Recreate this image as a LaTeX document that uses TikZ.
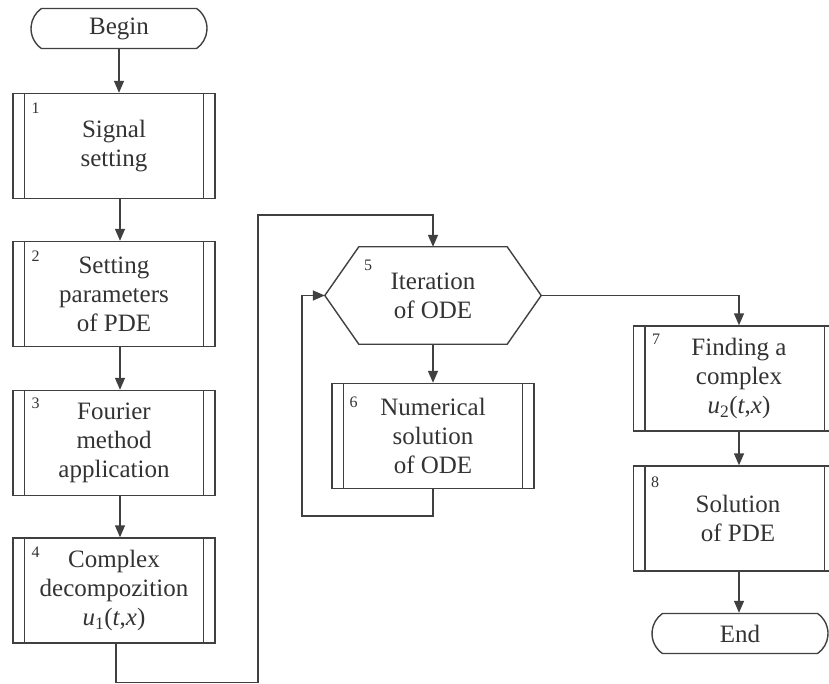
\documentclass[tikz,border=0pt]{standalone}
\usepackage{fontspec}
\setmainfont{Liberation Serif}
\newfontfamily\timesfont{Liberation Serif}
\usetikzlibrary{arrows.meta,shapes.misc}
\definecolor{lncol}{gray}{0.25}
\definecolor{txcol}{gray}{0.2}
\begin{document}
\begin{tikzpicture}[x=1pt,y=-1pt,
  every node/.style={text=txcol},
  bigtext/.style={font=\timesfont\fontsize{25}{29}\selectfont, align=center},
  proc/.style={draw=lncol, line width=1.4pt, minimum width=202pt, minimum height=105pt, inner sep=0pt, bigtext},
  term/.style={draw=lncol, line width=1.4pt, rounded rectangle, rounded rectangle arc length=110, minimum width=176pt, minimum height=40pt, inner sep=0pt, bigtext},
  num/.style={anchor=north west, inner sep=0pt, font=\timesfont\fontsize{16}{16}\selectfont},
  wire/.style={draw=lncol, line width=1.4pt},
  arr/.style={wire, -{Triangle[length=12pt,width=10pt]}}
]
\useasboundingbox (0,0) rectangle (829,684);
% terminals
\node[term] (begin) at (119,28.5) {Begin};
\node[term] (end) at (740,633.5) {End};
% left column
\node[proc] (b1) at (114,146) {Signal\\setting};
\node[proc] (b2) at (114,294) {Setting\\parameters\\of PDE};
\node[proc] (b3) at (114,443) {Fourier\\method\\application};
\node[proc] (b4) at (114,590.5) {Complex\\decompozition\\\textit{u}\textsubscript{1}(\textit{t},\textit{x})};
% hexagon
\node[minimum width=216pt, minimum height=97pt, inner sep=0pt, bigtext] (h5) at (433,295.5) {Iteration\\of ODE};
\draw[wire] ([xshift=34pt]h5.north west) -- ([xshift=-34pt]h5.north east) -- (h5.east)
  -- ([xshift=-34pt]h5.south east) -- ([xshift=34pt]h5.south west) -- (h5.west) -- cycle;
\node[proc] (b6) at (433,436) {Numerical\\solution\\of ODE};
% right column
\node[proc] (b7) at (734.5,378.5) {};
\node[bigtext, inner sep=0pt] (t7) at (739,378.5) {Finding a\\complex\\\textit{u}\textsubscript{2}(\textit{t},\textit{x})};
\node[proc] (b8) at (734.5,518.5) {};
\node[bigtext, inner sep=0pt] (t8) at (738,518.5) {Solution\\of PDE};
% inner lines of predefined-process boxes
\foreach \b in {b1,b2,b3,b4,b6,b7,b8}{
  \draw[wire] ([xshift=12pt]\b.north west) -- ([xshift=12pt]\b.south west)
              ([xshift=-12pt]\b.north east) -- ([xshift=-12pt]\b.south east);
}
% numbers
\node[num] (n1) at ([xshift=19pt,yshift=-10pt]b1.north west) {1};
\node[num] (n2) at ([xshift=19pt,yshift=-10pt]b2.north west) {2};
\node[num] (n3) at ([xshift=19pt,yshift=-8pt]b3.north west) {3};
\node[num] (n4) at ([xshift=19pt,yshift=-9pt]b4.north west) {4};
\node[num] (n5) at ([xshift=39pt,yshift=-13pt]h5.north west) {5};
\node[num] (n6) at ([xshift=18pt,yshift=-14pt]b6.north west) {6};
\node[num] (n7) at ([xshift=19pt,yshift=-9pt]b7.north west) {7};
\node[num] (n8) at ([xshift=18pt,yshift=-11pt]b8.north west) {8};
% helper coordinates
\coordinate (c1) at (258,215);
\coordinate (lp) at (302,516);
\coordinate (c7) at (739,0);
% connectors
\draw[arr] (begin.south) -- (begin.south |- b1.north);
\draw[arr] ([xshift=6pt]b1.south) -- ([xshift=6pt]b2.north);
\draw[arr] ([xshift=6pt]b2.south) -- ([xshift=6pt]b3.north);
\draw[arr] ([xshift=6pt]b3.south) -- ([xshift=6pt]b4.north);
\draw[arr] ([xshift=2pt]b4.south) -- ++(0,39) -| (c1) -| (h5.north);
\draw[arr] (h5.south) -- (b6.north);
\draw[arr] (b6.south) |- (lp) |- (h5.west);
\draw[arr] (h5.east) -| (c7 |- b7.north);
\draw[arr] (c7 |- b7.south) -- (c7 |- b8.north);
\draw[arr] (c7 |- b8.south) -- (c7 |- end.north);
\end{tikzpicture}
\end{document}
